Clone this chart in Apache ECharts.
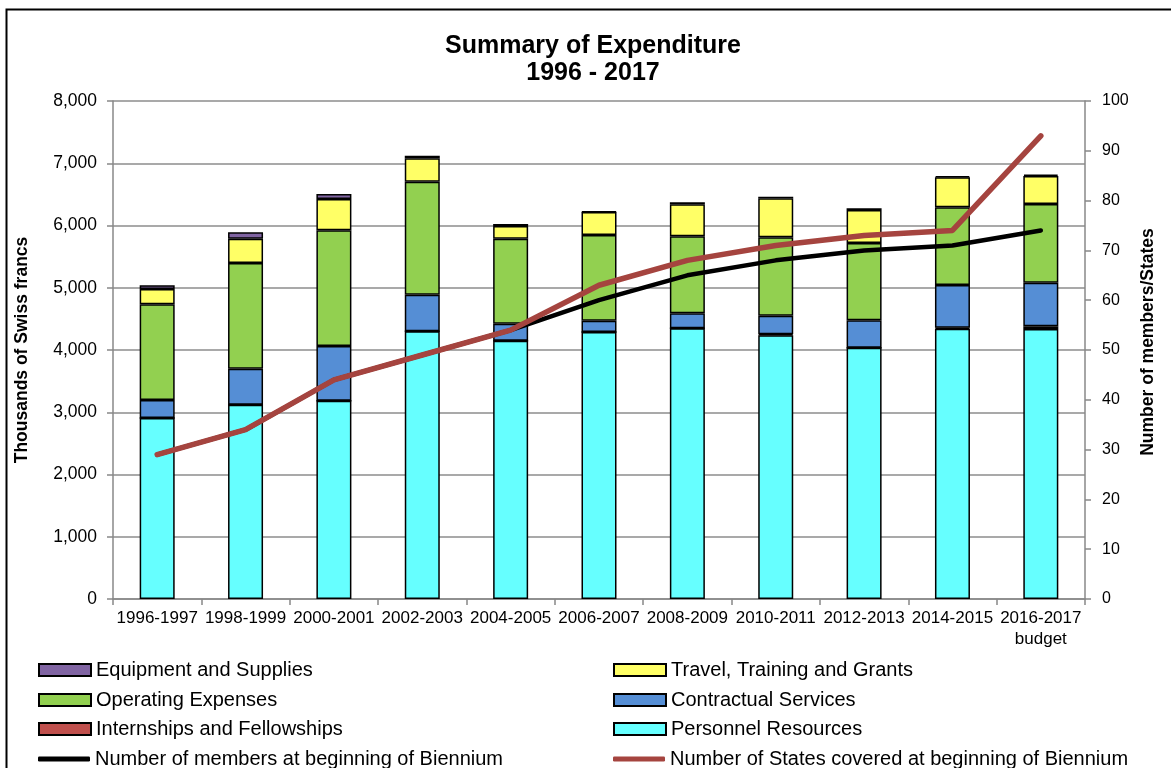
<!DOCTYPE html>
<html>
<head>
<meta charset="utf-8">
<script src="https://cdn.jsdelivr.net/npm/echarts@6/dist/echarts.min.js"></script>
<style>
  html, body { margin: 0; padding: 0; background: #fff; }
  #chart { width: 1171px; height: 768px; }
</style>
</head>
<body>
<div id="chart"></div>
<script>
// Biennium categories
const categories = ['1996-1997', '1998-1999', '2000-2001', '2002-2003', '2004-2005', '2006-2007',
  '2008-2009', '2010-2011', '2012-2013', '2014-2015', '2016-2017\nbudget'];

// Expenditure by type, thousands of Swiss francs
const personnel   = [2908, 3122, 3186, 4300, 4150, 4289, 4348, 4237, 4037, 4343, 4337];
const internships = [0, 0, 0, 0, 0, 0, 0, 15, 0, 15, 45];
const contractual = [290, 578, 878, 588, 273, 182, 241, 299, 440, 686, 700];
const operating   = [1537, 1698, 1859, 1816, 1365, 1376, 1238, 1259, 1242, 1248, 1264];
const travel      = [246, 390, 503, 375, 204, 370, 514, 627, 530, 482, 450];
const equipment   = [60, 102, 80, 43, 32, 10, 32, 26, 27, 21, 21];

// Counts at the beginning of each biennium
const members = [29, 34, 44, 49, 54, 60, 65, 68, 70, 71, 74];
const states  = [29, 34, 44, 49, 54, 63, 68, 71, 73, 74, 93];

const FONT = 'Liberation Sans, Arial, sans-serif';
const RED_LINE = '#A5443F';
const chart = echarts.init(document.getElementById('chart'));

function barSeries(name, data, color) {
  return {
    name: name, type: 'bar', stack: 'exp', data: data, barWidth: 35,
    itemStyle: { color: color, borderColor: '#000', borderWidth: 1.5 },
    emphasis: { disabled: true }
  };
}

// One legend block per entry, laid out as two columns of four rows
const legendRows = [670, 700, 729, 759];
const legendCols = [38, 613];
const legendEntries = [
  ['Equipment and Supplies', 0, 0, false],
  ['Travel, Training and Grants', 1, 0, false],
  ['Operating Expenses', 0, 1, false],
  ['Contractual Services', 1, 1, false],
  ['Internships and Fellowships', 0, 2, false],
  ['Personnel Resources', 1, 2, false],
  ['Number of members at beginning of Biennium', 0, 3, true],
  ['Number of States covered at beginning of Biennium', 1, 3, true]
];
const legends = legendEntries.map(([name, col, row, isLine]) => ({
  left: legendCols[col], top: legendRows[row] - 10, padding: 0,
  itemWidth: 52, itemHeight: isLine ? 5 : 12,
  icon: isLine ? 'roundRect' : 'rect',
  textStyle: { fontFamily: FONT, fontSize: 20, color: '#000', lineHeight: 20 },
  data: [{ name: name }]
}));

chart.setOption({
  animation: false,
  backgroundColor: '#fff',
  title: {
    text: 'Summary of Expenditure\n1996 - 2017',
    left: 588, top: 28, textAlign: 'center',
    textStyle: { fontFamily: FONT, fontSize: 25, fontWeight: 'bold', color: '#000', lineHeight: 27 }
  },
  graphic: [{
    type: 'rect', left: 4, top: 7, silent: true,
    shape: { width: 1190, height: 790 },
    style: { fill: 'none', stroke: '#000', lineWidth: 2 }
  }],
  legend: legends,
  grid: { left: 113, right: 86, top: 101, bottom: 169 },
  xAxis: {
    type: 'category', data: categories,
    axisLine: { lineStyle: { color: '#888', width: 1.5 } },
    axisTick: { show: true, length: 6, lineStyle: { color: '#888', width: 1.5 } },
    axisLabel: { fontFamily: FONT, fontSize: 17, color: '#000', margin: 9, interval: 0, lineHeight: 21 }
  },
  yAxis: [
    {
      type: 'value', min: 0, max: 8000, interval: 1000,
      name: 'Thousands of Swiss francs', nameLocation: 'middle', nameGap: 82, nameRotate: 90,
      nameTextStyle: { fontFamily: FONT, fontSize: 17.5, fontWeight: 'bold', color: '#000' },
      axisLine: { show: true, lineStyle: { color: '#888', width: 1.5 } },
      axisTick: { show: true, length: 6, lineStyle: { color: '#888', width: 1.5 } },
      splitLine: { lineStyle: { color: '#8c8c8c', width: 1.5 } },
      axisLabel: {
        fontFamily: FONT, fontSize: 17.5, color: '#000', margin: 16,
        formatter: v => v.toLocaleString('en-US')
      }
    },
    {
      type: 'value', min: 0, max: 100, interval: 10, position: 'right',
      name: 'Number of members/States', nameLocation: 'middle', nameGap: 48, nameRotate: 90,
      nameTextStyle: { fontFamily: FONT, fontSize: 17.5, fontWeight: 'bold', color: '#000', padding: [0, 0, 0, 16] },
      axisLine: { show: true, lineStyle: { color: '#888', width: 1.5 } },
      axisTick: { show: true, length: 6, lineStyle: { color: '#888', width: 1.5 } },
      splitLine: { show: false },
      axisLabel: { fontFamily: FONT, fontSize: 16, color: '#000', margin: 17 }
    }
  ],
  series: [
    barSeries('Personnel Resources', personnel, '#66FFFF'),
    barSeries('Internships and Fellowships', internships, '#C0504D'),
    barSeries('Contractual Services', contractual, '#558ED5'),
    barSeries('Operating Expenses', operating, '#92D050'),
    barSeries('Travel, Training and Grants', travel, '#FFFF66'),
    barSeries('Equipment and Supplies', equipment, '#8064A2'),
    {
      name: 'Number of members at beginning of Biennium', type: 'line', yAxisIndex: 1,
      data: members, symbol: 'none',
      lineStyle: { color: '#000', width: 4.5, cap: 'round', join: 'round' },
      itemStyle: { color: '#000' }
    },
    {
      name: 'Number of States covered at beginning of Biennium', type: 'line', yAxisIndex: 1,
      data: states, symbol: 'none',
      lineStyle: { color: RED_LINE, width: 5.5, cap: 'round', join: 'round' },
      itemStyle: { color: RED_LINE }
    }
  ]
});
</script>
</body>
</html>
